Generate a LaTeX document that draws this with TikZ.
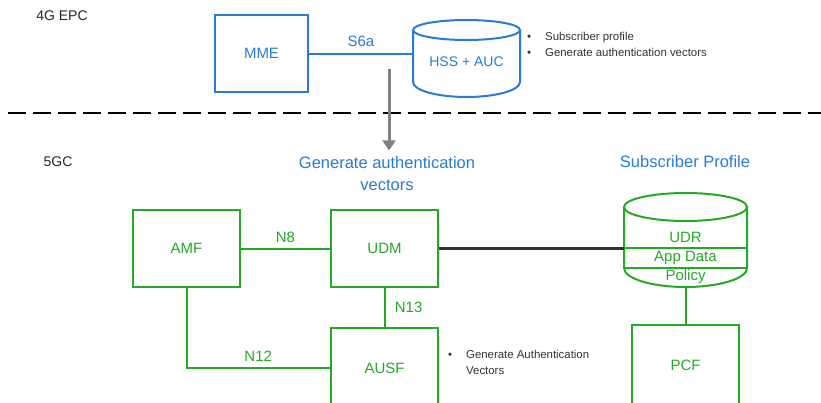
\documentclass[tikz,border=0pt]{standalone}
\usepackage{fontspec}
\setmainfont{Liberation Sans}
\usetikzlibrary{arrows.meta}
\definecolor{epcblue}{HTML}{2A7BD4}
\definecolor{nfgreen}{HTML}{27A827}
\definecolor{linkgray}{HTML}{333333}
\tikzset{epcbox/.style = {draw=epcblue,line width=2pt,text=epcblue,font=\fontsize{15}{17}\selectfont}}
\tikzset{nfbox/.style = {draw=nfgreen,line width=2pt,text=nfgreen,minimum width=107pt,minimum height=77pt,font=\fontsize{15}{17}\selectfont}}
\tikzset{nflink/.style = {draw=nfgreen,line width=2pt}}
\tikzset{iflabel/.style = {text=nfgreen,font=\fontsize{15}{17}\selectfont}}
\tikzset{bullets/.style = {anchor=north west,align=left,inner sep=0pt,text=black!80,font=\fontsize{11.4}{16.5}\selectfont}}
\newcommand{\bulletitem}{\makebox[18pt][l]{\textbullet}}

\begin{document}
\begin{tikzpicture}[x=1pt,y=-1pt]
\useasboundingbox (0,0) rectangle (821,402);

% 4G EPC part
\node[font=\fontsize{14}{16}\selectfont,text=black!85] (epc) at (62,16) {4G EPC};
\node[epcbox,minimum width=93pt,minimum height=77pt] (mme) at (261.5,53.5) {MME};
\node[text=epcblue,font=\fontsize{14}{17}\selectfont,minimum width=107pt,minimum height=77pt] (hss) at (466.5,62) {HSS + AUC};
\draw[epcblue,line width=2pt] (466.5,30) ellipse (53.5 and 10);
\draw[epcblue,line width=2pt] (413,30) -- (413,82) arc[start angle=180,end angle=0,x radius=53.5,y radius=15] -- (520,30);
\draw[epcblue,line width=2pt] (mme.east) -- (mme.east -| hss.west) node[midway,above=3pt,text=epcblue,font=\fontsize{15}{17}\selectfont] {S6a};
\node[bullets] (hssnote) at (527,32) {\bulletitem Subscriber profile\\\bulletitem Generate authentication vectors};

% split
\draw[black,line width=2.5pt,dash pattern=on 18pt off 7pt] (8,113) -- (821,113);

% 5GC part
\node[font=\fontsize{14}{16}\selectfont,text=black!85] (fgc) at (58,162) {5GC};
\coordinate (arrowtop) at (389,69);
\node[text=epcblue,align=center,font=\fontsize{16.5}{22}\selectfont] (genav) at (387,174) {Generate authentication\\vectors};
\draw[-{Triangle[width=13pt,length=10pt]},gray,line width=3pt,shorten >=3pt] (arrowtop) -- (arrowtop |- genav.north);
\node[text=epcblue,font=\fontsize{16.5}{18}\selectfont] (subprof) at (685,162) {Subscriber Profile};

\node[nfbox] (amf) at (186.5,248.5) {AMF};
\node[nfbox] (udm) at (384.5,248.5) {UDM};
\node[nfbox,minimum height=80pt] (ausf) at (384.5,368) {AUSF};
\node[nfbox,minimum height=80pt] (pcf) at (685.5,365) {PCF};

\node[minimum width=123pt,minimum height=94pt,inner sep=0pt] (udr) at (685.5,240) {};
\draw[nflink] (685.5,207) ellipse (61.5 and 14);
\draw[nflink] (624,207) -- (624,268) arc[start angle=180,end angle=0,x radius=61.5,y radius=19] -- (747,207);
\draw[nflink] (624,248) -- (747,248);
\draw[nflink] (624,268) -- (747,268);
\node[iflabel] at (685.5,237) {UDR};
\node[iflabel] at (685.5,258) {App Data};
\node[iflabel] at (685.5,277) {Policy};

\draw[nflink] (amf.east) -- (udm.west) node[midway,above=2pt,iflabel] {N8};
\draw[nflink] (udm.south) -- (ausf.north) node[midway,right=6pt,iflabel] {N13};
\draw[nflink] (amf.south) |- (ausf.west) node[pos=0.75,above=2pt,iflabel] {N12};
\draw[linkgray,line width=2.5pt] (udm.east) -- (udm.east -| udr.west);
\draw[nflink] (udr.south) -- (pcf.north);
\node[bullets] (ausfnote) at (448,350) {\bulletitem Generate Authentication\\\makebox[18pt]{}Vectors};

\end{tikzpicture}
\end{document}
